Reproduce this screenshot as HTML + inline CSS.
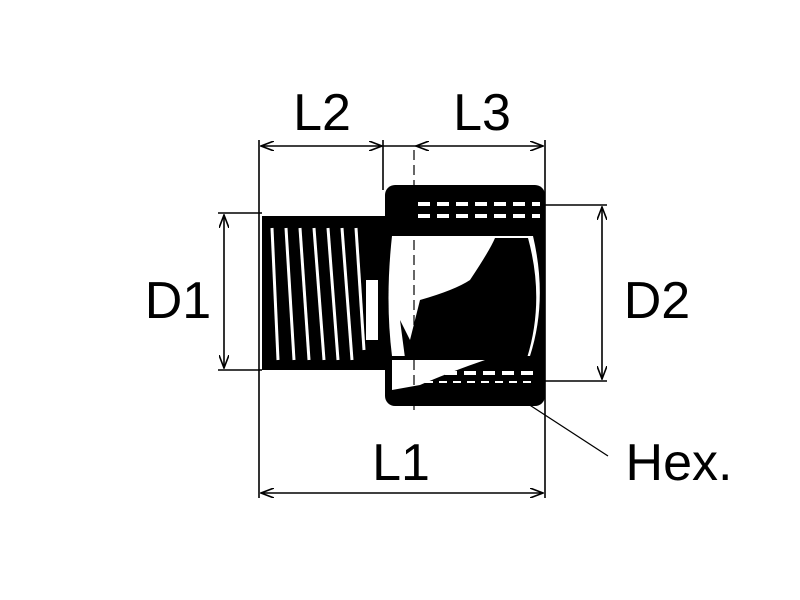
<!DOCTYPE html>
<html><head><meta charset="utf-8"><style>
html,body{margin:0;padding:0;background:#fff;width:800px;height:600px;overflow:hidden}
svg{display:block}
text{font-family:"Liberation Sans",Arial,sans-serif;fill:#000}
</style></head><body>
<svg width="800" height="600" viewBox="0 0 800 600" xmlns="http://www.w3.org/2000/svg">
<defs>
<marker id="a" markerWidth="14" markerHeight="10" refX="13" refY="5" orient="auto-start-reverse" markerUnits="userSpaceOnUse">
<path d="M0,0 L13,5 L0,10" fill="none" stroke="#000" stroke-width="1.6"/>
</marker>
</defs>
<g stroke="#000" stroke-width="1.6" fill="none">
<line x1="259" y1="140" x2="259" y2="498"/>
<line x1="545" y1="140" x2="545" y2="498"/>
<line x1="383" y1="140" x2="383" y2="190"/>
<line x1="261" y1="146" x2="382" y2="146" marker-start="url(#a)" marker-end="url(#a)"/>
<line x1="416" y1="146" x2="543" y2="146" marker-start="url(#a)" marker-end="url(#a)"/>
<line x1="383" y1="146" x2="416" y2="146"/>
<line x1="261" y1="493" x2="543" y2="493" marker-start="url(#a)" marker-end="url(#a)"/>
<line x1="218" y1="213" x2="262" y2="213"/>
<line x1="218" y1="370" x2="262" y2="370"/>
<line x1="224" y1="215" x2="224" y2="368" marker-start="url(#a)" marker-end="url(#a)"/>
<line x1="540" y1="205" x2="607" y2="205"/>
<line x1="540" y1="381" x2="607" y2="381"/>
<line x1="602" y1="207" x2="602" y2="379" marker-start="url(#a)" marker-end="url(#a)"/>
<line x1="525" y1="402" x2="608" y2="456" stroke-width="1.3"/>
</g>
<rect x="262" y="216" width="124" height="154" fill="#000"/>
<g stroke="#fff" stroke-width="3">
<line x1="272" y1="228" x2="278" y2="360"/>
<line x1="286" y1="228" x2="294" y2="360"/>
<line x1="300" y1="228" x2="309" y2="360"/>
<line x1="314" y1="228" x2="324" y2="360"/>
<line x1="328" y1="228" x2="338" y2="360"/>
<line x1="342" y1="228" x2="352" y2="360"/>
<line x1="356" y1="228" x2="364" y2="350"/>
</g>
<rect x="366" y="280" width="12" height="60" fill="#fff"/>
<rect x="385" y="185" width="160" height="221" rx="10" fill="#000"/>
<path d="M392,236 L533,236 Q548,300 530,356 L392,356 Q385,300 392,236Z" fill="#fff"/>
<path d="M495,238 L528,238 Q545,300 527,358 L405,358 L400,320 L410,340 L420,300 Q455,290 470,280 Q490,250 495,238Z" fill="#000"/>
<path d="M392,360 L485,360 Q450,372 420,385 L392,390Z" fill="#fff"/>
<line x1="414" y1="150" x2="414" y2="410" stroke="#000" stroke-width="1.2" stroke-dasharray="10,5"/>
<g stroke="#fff" stroke-width="4" stroke-dasharray="12,7">
<line x1="418" y1="204" x2="540" y2="204"/>
<line x1="418" y1="216" x2="540" y2="216"/>
<line x1="445" y1="373" x2="535" y2="373"/>
</g>
<g stroke="#fff" stroke-width="2" stroke-dasharray="8,6">
<line x1="425" y1="382" x2="535" y2="382"/>
</g>
<text x="322" y="130" font-size="52" text-anchor="middle">L2</text>
<text x="482" y="130" font-size="52" text-anchor="middle">L3</text>
<text x="178" y="318" font-size="52" text-anchor="middle">D1</text>
<text x="657" y="318" font-size="52" text-anchor="middle">D2</text>
<text x="401" y="480" font-size="52" text-anchor="middle">L1</text>
<text x="679" y="480" font-size="52" text-anchor="middle">Hex.</text>
</svg>
</body></html>
